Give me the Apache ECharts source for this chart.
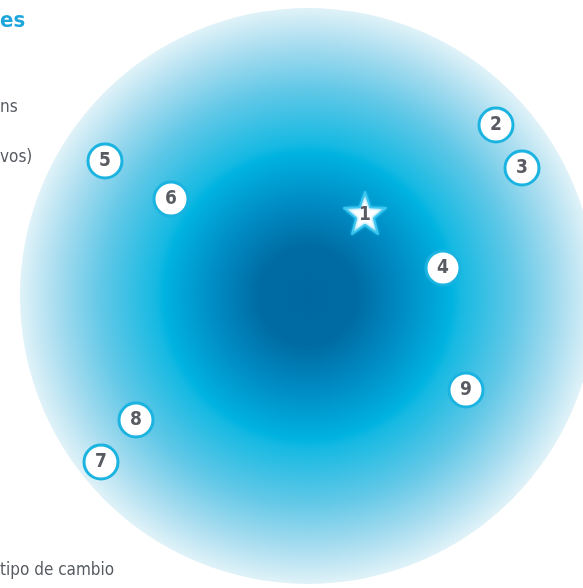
<!DOCTYPE html>
<html><head><meta charset="utf-8">
<script src="https://cdn.jsdelivr.net/npm/echarts@6/dist/echarts.min.js"></script>
<style>html,body{margin:0;padding:0;background:#fff}#c{width:583px;height:588px}</style>
</head><body><div id="c"></div>
<script>
// Marker data (numbered factors)
var labels = ['1','2','3','4','5','6','7','8','9'];
var xs = [365, 496, 522, 443, 105, 171, 101, 136, 466];
var ys = [213, 125, 168, 268, 161, 199, 462, 420, 390];
// Background circle (center, radius in data units)
var bgCenter = [308, 296];
var bgRadius = 288;
// Left-side text fragments (cropped in the original)
var texts = ['es', 'ns', 'vos)', 'tipo de cambio'];

var chart = echarts.init(document.getElementById('c'));
var FONT = '"DejaVu Sans Condensed","Liberation Sans Narrow",sans-serif';

var circles = [], stars = [];
for (var i = 0; i < labels.length; i++) {
  var p = {value: [xs[i], ys[i]], name: labels[i]};
  if (labels[i] === '1') stars.push(p); else circles.push(p);
}

chart.setOption({
  animation: false,
  grid: {left: 0, right: 0, top: 0, bottom: 0},
  xAxis: {type: 'value', min: 0, max: 583, show: false},
  yAxis: {type: 'value', min: 0, max: 588, inverse: true, show: false},
  series: [
    {
      type: 'scatter', silent: true, z: 1,
      data: [bgCenter],
      symbol: 'circle',
      symbolSize: bgRadius * 2,
      itemStyle: {
        opacity: 1,
        color: {type: 'radial', x: 0.5, y: 0.5, r: 0.5, colorStops: [
          {offset: 0, color: '#0068a0'},
          {offset: 0.17, color: '#006ba3'},
          {offset: 0.34, color: '#008ec6'},
          {offset: 0.5, color: '#00b3e0'},
          {offset: 0.53, color: '#16b9e2'},
          {offset: 0.72, color: '#62c8e7'},
          {offset: 0.87, color: '#a6dcef'},
          {offset: 1, color: '#e0f2f8'}
        ]}
      }
    },
    {
      type: 'scatter', z: 5,
      data: circles,
      symbol: 'circle',
      symbolSize: 34,
      itemStyle: {color: '#ffffff', borderColor: '#1bb3e0', borderWidth: 3, opacity: 1},
      label: {show: true, position: 'inside', formatter: '{b}', color: '#585c62',
        fontFamily: FONT, fontSize: 19, fontWeight: 'bold'}
    },
    {
      type: 'scatter', z: 5,
      data: stars,
      symbol: 'path://M50,0 L62.5,34 L98.9,35.5 L70.5,58 L80.2,93.1 L50,73 L19.8,93.1 L29.5,58 L1.1,35.5 L37.5,34 Z',
      symbolSize: 42,
      itemStyle: {color: '#ffffff', borderColor: '#3cc6ee', borderWidth: 2, borderJoin: 'round', opacity: 1,
        shadowColor: 'rgba(30,185,235,0.9)', shadowBlur: 3},
      label: {show: true, position: 'inside', formatter: '{b}', color: '#585c62',
        fontFamily: FONT, fontSize: 19, fontWeight: 'bold', offset: [0, 2]}
    }
  ],
  graphic: [
    {type: 'text', left: 0, top: 10, style: {text: texts[0], fill: '#1ea6dc', font: 'bold 22px ' + FONT}},
    {type: 'text', left: 0, top: 99, style: {text: texts[1], fill: '#555a60', font: '17px ' + FONT}},
    {type: 'text', left: 0, top: 149, style: {text: texts[2], fill: '#555a60', font: '17px ' + FONT}},
    {type: 'text', left: 0, top: 562, style: {text: texts[3], fill: '#555a60', font: '17px ' + FONT}}
  ]
});
</script></body></html>
